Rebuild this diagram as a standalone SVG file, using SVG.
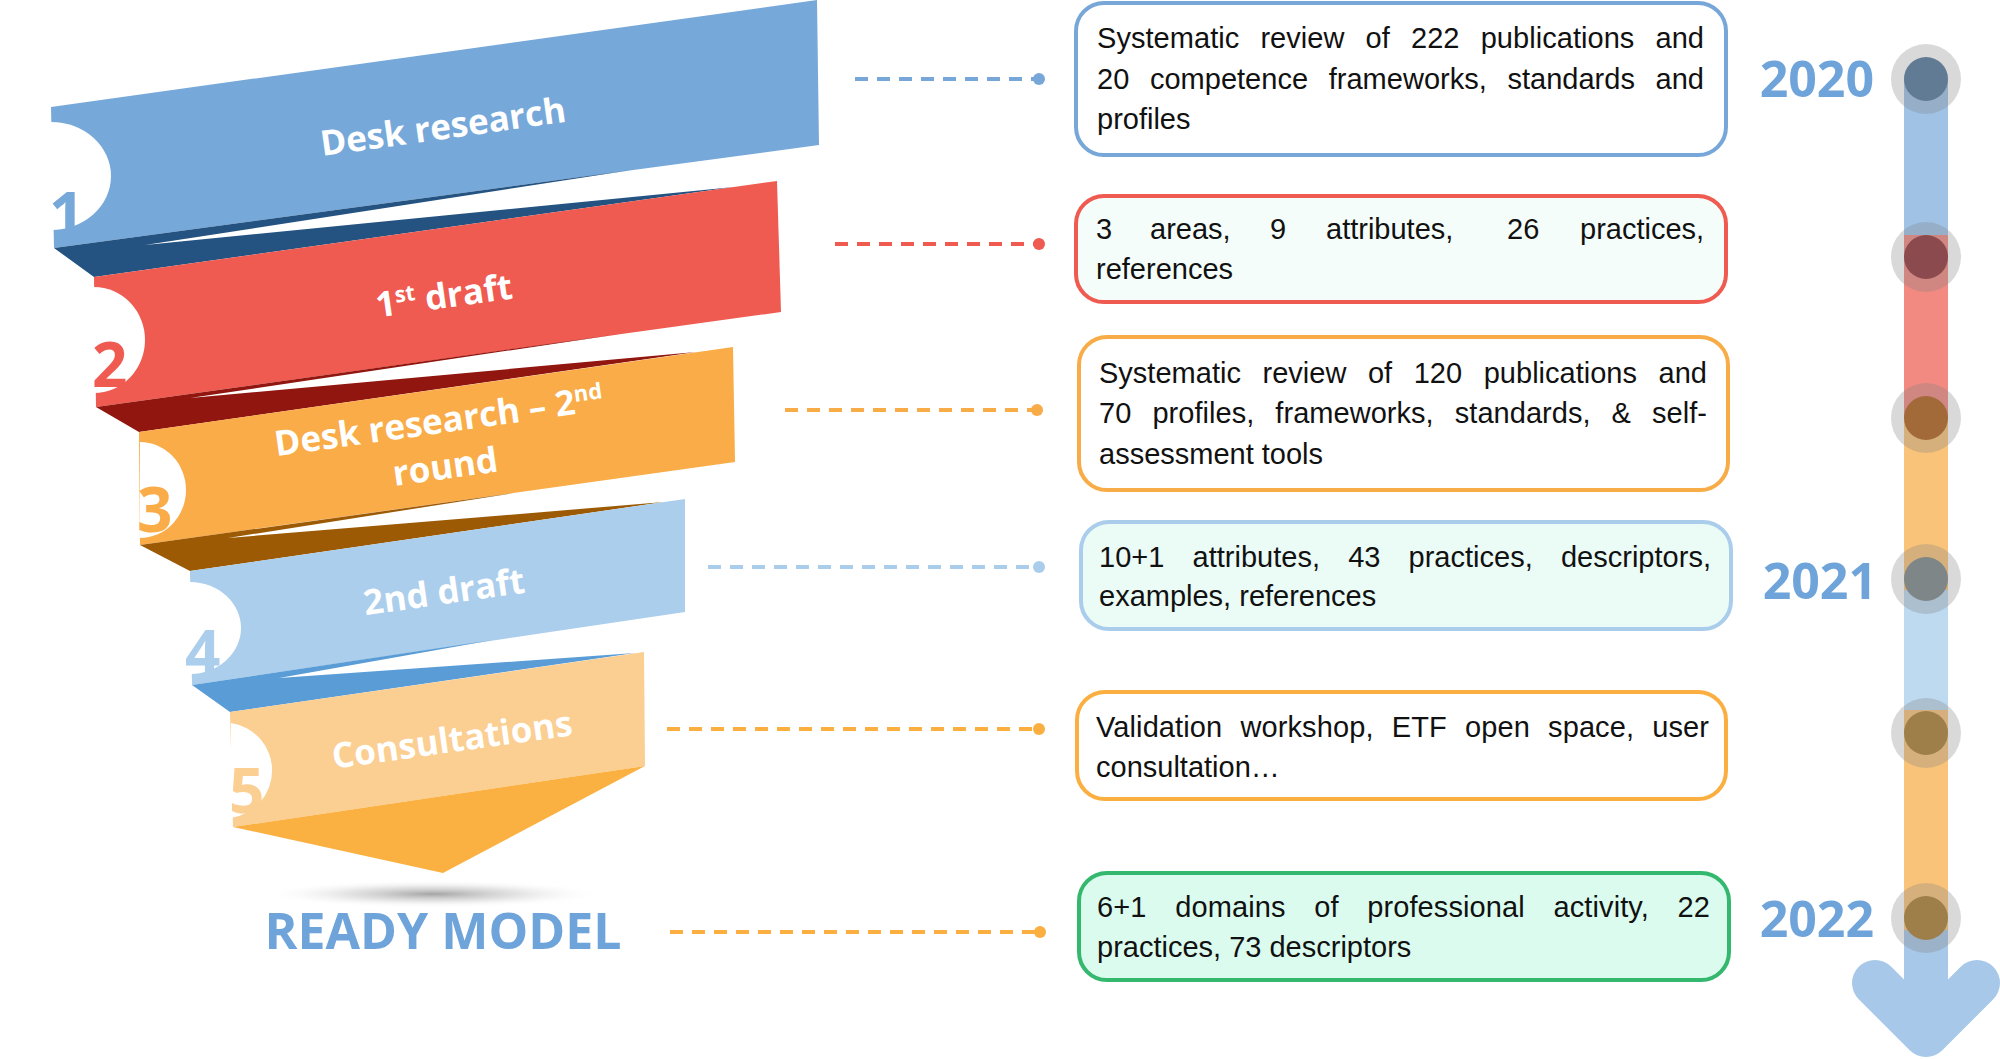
<svg xmlns="http://www.w3.org/2000/svg" width="2000" height="1059" viewBox="0 0 2000 1059">
<defs>
<radialGradient id="shadow" cx="0.5" cy="0.5" r="0.5">
<stop offset="0" stop-color="#9a9a9a" stop-opacity="0.9"/>
<stop offset="0.5" stop-color="#c8c8c8" stop-opacity="0.5"/>
<stop offset="1" stop-color="#ffffff" stop-opacity="0"/>
</radialGradient>
</defs>
<style>
.lbl{font-family:"Open Sans","Liberation Sans",sans-serif;font-weight:700;font-size:35px;fill:#ffffff;text-anchor:middle}
.num{font-family:"Open Sans","Liberation Sans",sans-serif;font-weight:700;font-size:62px}
.notch{fill:#ffffff}
.box{stroke-width:4}
.bt{font-family:"Liberation Sans",Arial,sans-serif;font-size:29px;fill:#111111}
.year{font-family:"Open Sans","Liberation Sans",sans-serif;font-weight:700;font-size:50px;fill:#6FA4DA;text-anchor:end}
.dash{fill:none;stroke-width:4;stroke-dasharray:13 9}
.ring{fill:#808080;fill-opacity:0.3}
</style>

<!-- Funnel bands -->
<g id="step1">
<polygon points="51,107 817,0 819,145 54,248" fill="#76A8D9"/>
<path class="notch" d="M51,122 A60,54 0 0 1 51,230 Z"/>
<text class="num" x="49" y="237" fill="#76A8D9">1</text>
<text class="lbl" x="443" y="139" transform="rotate(-8 443 127)">Desk research</text>
</g>
<g id="fold1"><polygon points="54,248 632,170 145,245 734,187 94,277" fill="#245381"/></g>

<g id="step2">
<polygon points="94,277 777,181 781,312 96,407" fill="#EF5B51"/>
<path class="notch" d="M94,287 A51,53 0 0 1 94,393 Z"/>
<text class="num" x="92" y="387" fill="#EF5B51">2</text>
<text class="lbl" x="444" y="308" transform="rotate(-8 444 296)">1<tspan font-size="22" dy="-12">st</tspan><tspan dy="12"> draft</tspan></text>
</g>
<g id="fold2"><polygon points="96,407 620,334 190,398 696,352 139,432" fill="#91160F"/></g>

<g id="step3">
<polygon points="139,432 733,347 735,462 140,545" fill="#F9AC48"/>
<path class="notch" d="M140,442 A46,48 0 0 1 140,538 Z"/>
<text class="num" x="137" y="532" fill="#F9AC48">3</text>
<g transform="rotate(-8 442 444)">
<text class="lbl" x="442" y="433">Desk research – 2<tspan font-size="22" dy="-12">nd</tspan></text>
<text class="lbl" x="442" y="479">round</text>
</g>
</g>
<g id="fold3"><polygon points="140,545 514,493 228,538 664,502 190,571" fill="#9C5A05"/></g>

<g id="step4">
<polygon points="190,571 685,499 685,612 192,685" fill="#ABCEEC"/>
<path class="notch" d="M190,582 A51,46 0 0 1 190,674 Z"/>
<text class="num" x="185" y="675" fill="#ABCEEC">4</text>
<text class="lbl" x="444" y="604" transform="rotate(-8 444 592)">2nd draft</text>
</g>
<g id="fold4"><polygon points="192,685 493,640 279,678 635,653 230,712" fill="#5A9DD6"/></g>

<g id="step5">
<polygon points="230,712 644,652 645,766 233,827" fill="#FBCE92"/>
<path class="notch" d="M231,723 A48,48 0 0 1 231,818 Z"/>
<text class="num" x="229" y="813" fill="#FBCE92">5</text>
<text class="lbl" x="452" y="752" transform="rotate(-8 452 740)">Consultations</text>
</g>

<g id="ready-model">
<polygon points="233,827 645,766 443,873" fill="#FBB142"/>
<ellipse cx="433" cy="894" rx="170" ry="14" fill="url(#shadow)"/>
<text x="443" y="949" text-anchor="middle" font-family="Open Sans, Liberation Sans, sans-serif" font-weight="700" font-size="50" fill="#6FA4DA">READY MODEL</text>
</g>

<!-- Connectors -->
<g id="connectors">
<line class="dash" x1="855" y1="79" x2="1035" y2="79" stroke="#77A7D9"/><circle cx="1039" cy="79" r="6" fill="#77A7D9"/>
<line class="dash" x1="835" y1="244" x2="1035" y2="244" stroke="#EF5A51"/><circle cx="1039" cy="244" r="6" fill="#EF5A51"/>
<line class="dash" x1="785" y1="410" x2="1033" y2="410" stroke="#F8AC48"/><circle cx="1037" cy="410" r="6" fill="#F8AC48"/>
<line class="dash" x1="708" y1="567" x2="1035" y2="567" stroke="#A9CDEB"/><circle cx="1039" cy="567" r="6" fill="#A9CDEB"/>
<line class="dash" x1="667" y1="729" x2="1035" y2="729" stroke="#FBAF41"/><circle cx="1039" cy="729" r="6" fill="#FBAF41"/>
<line class="dash" x1="670" y1="932" x2="1036" y2="932" stroke="#FBAF41"/><circle cx="1040" cy="932" r="6" fill="#FBAF41"/>
</g>

<!-- Boxes -->
<g id="box1">
<rect class="box" x="1076" y="3" width="650" height="152" rx="28" fill="#ffffff" stroke="#77A7D9"/>
<text class="bt" x="1097" y="48" word-spacing="13" textLength="607" lengthAdjust="spacing">Systematic review of 222 publications and</text>
<text class="bt" x="1097" y="89" word-spacing="12.5" textLength="607" lengthAdjust="spacing">20 competence frameworks, standards and</text>
<text class="bt" x="1097" y="129">profiles</text>
</g>
<g id="box2">
<rect class="box" x="1076" y="196" width="650" height="106" rx="28" fill="#F5FDFA" stroke="#EF5A51"/>
<text class="bt" y="239"><tspan x="1096">3</tspan><tspan x="1150">areas,</tspan><tspan x="1270">9</tspan><tspan x="1326">attributes,</tspan><tspan x="1507">26</tspan><tspan x="1580">practices,</tspan></text>
<text class="bt" x="1096" y="279">references</text>
</g>
<g id="box3">
<rect class="box" x="1079" y="337" width="649" height="153" rx="28" fill="#ffffff" stroke="#F8AC48"/>
<text class="bt" x="1099" y="383" word-spacing="13.5" textLength="608" lengthAdjust="spacing">Systematic review of 120 publications and</text>
<text class="bt" x="1099" y="423" word-spacing="13" textLength="608" lengthAdjust="spacing">70 profiles, frameworks, standards, &amp; self-</text>
<text class="bt" x="1099" y="464">assessment tools</text>
</g>
<g id="box4">
<rect class="box" x="1081" y="522" width="650" height="107" rx="28" fill="#EBFBF5" stroke="#A9CDEB"/>
<text class="bt" x="1099" y="567" word-spacing="20" textLength="612" lengthAdjust="spacing">10+1 attributes, 43 practices, descriptors,</text>
<text class="bt" x="1099" y="606">examples, references</text>
</g>
<g id="box5">
<rect class="box" x="1077" y="692" width="649" height="107" rx="28" fill="#ffffff" stroke="#FBAF41"/>
<text class="bt" x="1096" y="737" word-spacing="10" textLength="613" lengthAdjust="spacing">Validation workshop, ETF open space, user</text>
<text class="bt" x="1096" y="777">consultation…</text>
</g>
<g id="box6">
<rect class="box" x="1079" y="873" width="650" height="107" rx="28" fill="#DBFBEE" stroke="#33B86E"/>
<text class="bt" x="1097" y="917" word-spacing="20.5" textLength="613" lengthAdjust="spacing">6+1 domains of professional activity, 22</text>
<text class="bt" x="1097" y="957">practices, 73 descriptors</text>
</g>

<!-- Timeline -->
<g id="timeline">
<rect x="1904" y="79" width="44" height="156" fill="#9FC2E5"/>
<rect x="1904" y="235" width="44" height="183" fill="#F28A82"/>
<rect x="1904" y="418" width="44" height="172" fill="#F9C47A"/>
<rect x="1904" y="590" width="44" height="120" fill="#BDDAF1"/>
<rect x="1904" y="710" width="44" height="220" fill="#F9C47A"/>
<rect x="1904" y="930" width="44" height="104" fill="#A7C8E8"/>
<polyline points="1875,983 1926,1034 1977,983" fill="none" stroke="#A7C8E8" stroke-width="46" stroke-linecap="round" stroke-linejoin="round"/>
<circle class="ring" cx="1926" cy="79" r="35"/><circle cx="1926" cy="79" r="22" fill="#627B95"/>
<circle class="ring" cx="1926" cy="257" r="35"/><circle cx="1926" cy="257" r="22" fill="#8A4A4E"/>
<circle class="ring" cx="1926" cy="418" r="35"/><circle cx="1926" cy="418" r="22" fill="#A26A39"/>
<circle class="ring" cx="1926" cy="579" r="35"/><circle cx="1926" cy="579" r="22" fill="#7E8687"/>
<circle class="ring" cx="1926" cy="733" r="35"/><circle cx="1926" cy="733" r="22" fill="#9E7F4A"/>
<circle class="ring" cx="1926" cy="918" r="35"/><circle cx="1926" cy="918" r="22" fill="#9E7F4A"/>
<text class="year" x="1874" y="97">2020</text>
<text class="year" x="1877" y="599">2021</text>
<text class="year" x="1874" y="937">2022</text>
</g>
</svg>
